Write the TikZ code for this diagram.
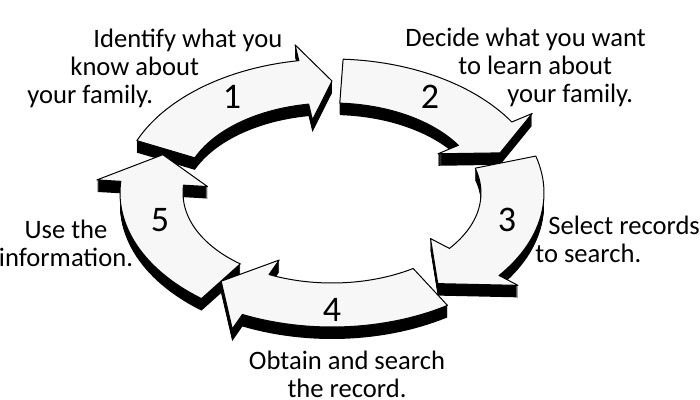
\documentclass[tikz,border=0pt]{standalone}
\usepackage{fontspec}
\setmainfont{Carlito}

% ring of the cycle (pixel units, y downwards)
\def\ringx{332}\def\ringy{193}
\def\rxo{212}\def\ryo{134}
\def\rxi{149}\def\ryi{90}
\def\rxm{180}\def\rym{112}
\def\wx{24}\def\wy{16}

\tikzset{
  ringarrow/.style n args={3}{insert path={
    plot[domain=#1:#2, samples=30] ({\ringx+\rxo*cos(\x)},{\ringy-\ryo*sin(\x)})
    -- ({\ringx+(\rxo+\wx)*cos(#2)},{\ringy-(\ryo+\wy)*sin(#2)})
    -- ({\ringx+\rxm*cos(#3)},{\ringy-\rym*sin(#3)})
    -- ({\ringx+(\rxi-\wx)*cos(#2)},{\ringy-(\ryi-\wy)*sin(#2)})
    -- plot[domain=#2:#1, samples=30] ({\ringx+\rxi*cos(\x)},{\ringy-\ryi*sin(\x)})
    -- cycle}},
  arrowside/.style={fill=black},
  arrowface/.style={fill=black!3, draw=black, line width=0.5pt, line join=round},
  steptext/.style={inner sep=0pt, font=\fontsize{13.3}{14}\selectfont},
  stepnum/.style={inner sep=0pt, font=\fontsize{18}{20}\selectfont}
}

\begin{document}
\begin{tikzpicture}[x=0.5pt, y=-0.5pt]
    \useasboundingbox (0,0) rectangle (700,400);

    % the five arrows, back to front
    \foreach \tail/\base/\tip in {157/99/90, 87/32/21, 232/175/160, -57/-115/-128, 16/-38/-54} {
        \foreach \d in {1,...,12}
            \fill[arrowside, shift={(0,\d)}, ringarrow={\tail}{\base}{\tip}];
        \draw[arrowface, ringarrow={\tail}{\base}{\tip}];
    }

    % step numbers
    \node[stepnum] (num1) at (232,97) {1};
    \node[stepnum] (num2) at (430,97) {2};
    \node[stepnum] (num3) at (507,220) {3};
    \node[stepnum] (num4) at (332,310) {4};
    \node[stepnum] (num5) at (160,220) {5};

    % step texts (anchored on the last line)
    \node[steptext, anchor=base west, align=left] (identify) at (27,104)
        {\hspace*{33pt}Identify what you\\\hspace*{21.5pt}know about\\your family.};
    \node[steptext, anchor=base west, align=left] (decide) at (405,103)
        {Decide what you want\\\hspace*{26.5pt}to learn about\\\hspace*{51pt}your family.};
    \node[steptext, anchor=base west, align=left] (select) at (535,263)
        {\hspace*{6.5pt}Select records\\to search.};
    \node[steptext, anchor=base, align=center] (obtain) at (347,397)
        {Obtain and search\\the record.};
    \node[steptext, anchor=base, align=center] (use) at (66,267)
        {Use the\\information.};
\end{tikzpicture}
\end{document}
